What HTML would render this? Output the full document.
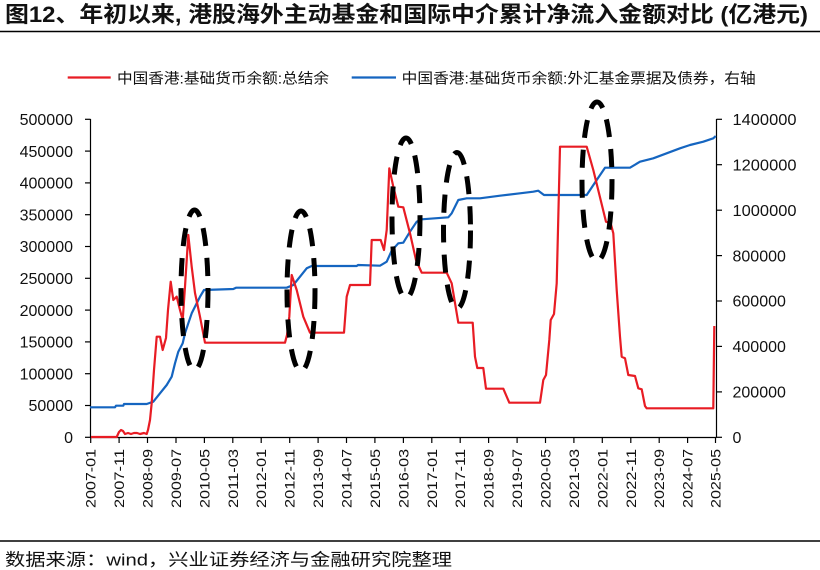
<!DOCTYPE html>
<html>
<head>
<meta charset="utf-8">
<style>
  html, body { margin: 0; padding: 0; background: #ffffff; }
  svg { display: block; }
  text { font-family: "Liberation Sans", "Noto Sans CJK SC", sans-serif; fill: #111; }
</style>
</head>
<body>
<svg width="820" height="570" viewBox="0 0 820 570" xmlns="http://www.w3.org/2000/svg">
  <rect x="0" y="0" width="820" height="570" fill="#ffffff"/>

  <!-- Title -->
  <text x="5" y="22" font-size="22" font-weight="bold" textLength="803" lengthAdjust="spacingAndGlyphs">图12、年初以来, 港股海外主动基金和国际中介累计净流入金额对比 (亿港元)</text>
  <line x1="0" y1="31.5" x2="820" y2="31.5" stroke="#000" stroke-width="1.6"/>

  <!-- Legend -->
  <line x1="67.7" y1="77.5" x2="110.7" y2="77.5" stroke="#E81C24" stroke-width="2.2"/>
  <text x="117" y="83.5" font-size="14.5" textLength="212" lengthAdjust="spacingAndGlyphs">中国香港:基础货币余额:总结余</text>
  <line x1="351.7" y1="77.5" x2="396" y2="77.5" stroke="#1565C0" stroke-width="2.2"/>
  <text x="401.7" y="83.5" font-size="14.5" textLength="354" lengthAdjust="spacingAndGlyphs">中国香港:基础货币余额:外汇基金票据及债券，右轴</text>

  <!-- Axes -->
  <g stroke="#000" stroke-width="1.2" fill="none">
    <line x1="90.5" y1="119" x2="90.5" y2="437.5"/>
    <line x1="716.5" y1="119" x2="716.5" y2="437.5"/>
    <line x1="90.5" y1="437.5" x2="716.5" y2="437.5"/>
    <!-- left ticks -->
    <line x1="85" y1="119.3" x2="90.5" y2="119.3"/>
    <line x1="85" y1="151.1" x2="90.5" y2="151.1"/>
    <line x1="85" y1="182.9" x2="90.5" y2="182.9"/>
    <line x1="85" y1="214.7" x2="90.5" y2="214.7"/>
    <line x1="85" y1="246.5" x2="90.5" y2="246.5"/>
    <line x1="85" y1="278.3" x2="90.5" y2="278.3"/>
    <line x1="85" y1="310.1" x2="90.5" y2="310.1"/>
    <line x1="85" y1="341.9" x2="90.5" y2="341.9"/>
    <line x1="85" y1="373.7" x2="90.5" y2="373.7"/>
    <line x1="85" y1="405.5" x2="90.5" y2="405.5"/>
    <line x1="85" y1="437.3" x2="90.5" y2="437.3"/>
    <!-- right ticks -->
    <line x1="716.5" y1="119.3" x2="722" y2="119.3"/>
    <line x1="716.5" y1="164.7" x2="722" y2="164.7"/>
    <line x1="716.5" y1="210.2" x2="722" y2="210.2"/>
    <line x1="716.5" y1="255.6" x2="722" y2="255.6"/>
    <line x1="716.5" y1="301.0" x2="722" y2="301.0"/>
    <line x1="716.5" y1="346.4" x2="722" y2="346.4"/>
    <line x1="716.5" y1="391.9" x2="722" y2="391.9"/>
    <line x1="716.5" y1="437.3" x2="722" y2="437.3"/>
    <!-- x ticks -->
    <line x1="90.7" y1="437.5" x2="90.7" y2="443"/>
    <line x1="119.1" y1="437.5" x2="119.1" y2="443"/>
    <line x1="147.5" y1="437.5" x2="147.5" y2="443"/>
    <line x1="176.0" y1="437.5" x2="176.0" y2="443"/>
    <line x1="204.4" y1="437.5" x2="204.4" y2="443"/>
    <line x1="232.8" y1="437.5" x2="232.8" y2="443"/>
    <line x1="261.2" y1="437.5" x2="261.2" y2="443"/>
    <line x1="289.7" y1="437.5" x2="289.7" y2="443"/>
    <line x1="318.1" y1="437.5" x2="318.1" y2="443"/>
    <line x1="346.5" y1="437.5" x2="346.5" y2="443"/>
    <line x1="374.9" y1="437.5" x2="374.9" y2="443"/>
    <line x1="403.4" y1="437.5" x2="403.4" y2="443"/>
    <line x1="431.8" y1="437.5" x2="431.8" y2="443"/>
    <line x1="460.2" y1="437.5" x2="460.2" y2="443"/>
    <line x1="488.6" y1="437.5" x2="488.6" y2="443"/>
    <line x1="517.1" y1="437.5" x2="517.1" y2="443"/>
    <line x1="545.5" y1="437.5" x2="545.5" y2="443"/>
    <line x1="573.9" y1="437.5" x2="573.9" y2="443"/>
    <line x1="602.3" y1="437.5" x2="602.3" y2="443"/>
    <line x1="630.8" y1="437.5" x2="630.8" y2="443"/>
    <line x1="659.2" y1="437.5" x2="659.2" y2="443"/>
    <line x1="687.6" y1="437.5" x2="687.6" y2="443"/>
    <line x1="715.5" y1="437.5" x2="715.5" y2="443"/>
  </g>

  <!-- Left axis labels -->
  <g font-size="16" text-anchor="end">
    <text x="73" y="125">500000</text>
    <text x="73" y="156.8">450000</text>
    <text x="73" y="188.6">400000</text>
    <text x="73" y="220.4">350000</text>
    <text x="73" y="252.2">300000</text>
    <text x="73" y="284">250000</text>
    <text x="73" y="315.8">200000</text>
    <text x="73" y="347.6">150000</text>
    <text x="73" y="379.4">100000</text>
    <text x="73" y="411.2">50000</text>
    <text x="73" y="443">0</text>
  </g>

  <!-- Right axis labels -->
  <g font-size="16" text-anchor="start">
    <text x="732.5" y="125" textLength="64" lengthAdjust="spacingAndGlyphs">1400000</text>
    <text x="732.5" y="170.4" textLength="64" lengthAdjust="spacingAndGlyphs">1200000</text>
    <text x="732.5" y="215.9" textLength="64" lengthAdjust="spacingAndGlyphs">1000000</text>
    <text x="732.5" y="261.3">800000</text>
    <text x="732.5" y="306.7">600000</text>
    <text x="732.5" y="352.1">400000</text>
    <text x="732.5" y="397.6">200000</text>
    <text x="732.5" y="443">0</text>
  </g>

  <!-- X axis labels (rotated) -->
  <g font-size="14" text-anchor="end">
    <text transform="translate(95.7,449) rotate(-90)" textLength="59" lengthAdjust="spacingAndGlyphs">2007-01</text>
    <text transform="translate(124.1,449) rotate(-90)" textLength="59" lengthAdjust="spacingAndGlyphs">2007-11</text>
    <text transform="translate(152.5,449) rotate(-90)" textLength="59" lengthAdjust="spacingAndGlyphs">2008-09</text>
    <text transform="translate(181.0,449) rotate(-90)" textLength="59" lengthAdjust="spacingAndGlyphs">2009-07</text>
    <text transform="translate(209.4,449) rotate(-90)" textLength="59" lengthAdjust="spacingAndGlyphs">2010-05</text>
    <text transform="translate(237.8,449) rotate(-90)" textLength="59" lengthAdjust="spacingAndGlyphs">2011-03</text>
    <text transform="translate(266.2,449) rotate(-90)" textLength="59" lengthAdjust="spacingAndGlyphs">2012-01</text>
    <text transform="translate(294.7,449) rotate(-90)" textLength="59" lengthAdjust="spacingAndGlyphs">2012-11</text>
    <text transform="translate(323.1,449) rotate(-90)" textLength="59" lengthAdjust="spacingAndGlyphs">2013-09</text>
    <text transform="translate(351.5,449) rotate(-90)" textLength="59" lengthAdjust="spacingAndGlyphs">2014-07</text>
    <text transform="translate(379.9,449) rotate(-90)" textLength="59" lengthAdjust="spacingAndGlyphs">2015-05</text>
    <text transform="translate(408.4,449) rotate(-90)" textLength="59" lengthAdjust="spacingAndGlyphs">2016-03</text>
    <text transform="translate(436.8,449) rotate(-90)" textLength="59" lengthAdjust="spacingAndGlyphs">2017-01</text>
    <text transform="translate(465.2,449) rotate(-90)" textLength="59" lengthAdjust="spacingAndGlyphs">2017-11</text>
    <text transform="translate(493.6,449) rotate(-90)" textLength="59" lengthAdjust="spacingAndGlyphs">2018-09</text>
    <text transform="translate(522.1,449) rotate(-90)" textLength="59" lengthAdjust="spacingAndGlyphs">2019-07</text>
    <text transform="translate(550.5,449) rotate(-90)" textLength="59" lengthAdjust="spacingAndGlyphs">2020-05</text>
    <text transform="translate(578.9,449) rotate(-90)" textLength="59" lengthAdjust="spacingAndGlyphs">2021-03</text>
    <text transform="translate(607.3,449) rotate(-90)" textLength="59" lengthAdjust="spacingAndGlyphs">2022-01</text>
    <text transform="translate(635.8,449) rotate(-90)" textLength="59" lengthAdjust="spacingAndGlyphs">2022-11</text>
    <text transform="translate(664.2,449) rotate(-90)" textLength="59" lengthAdjust="spacingAndGlyphs">2023-09</text>
    <text transform="translate(692.6,449) rotate(-90)" textLength="59" lengthAdjust="spacingAndGlyphs">2024-07</text>
    <text transform="translate(720.5,449) rotate(-90)" textLength="59" lengthAdjust="spacingAndGlyphs">2025-05</text>
  </g>

  <!-- Blue series (right axis) -->
  <polyline fill="none" stroke="#1565C0" stroke-width="2.2" stroke-linejoin="round"
    points="90,407.3 115,407.3 116,405.7 123.3,405.7 124,404 146.7,404 153.3,401.7 160,393.3 166.7,385 171.7,376.7 175,363.3 178.3,351.7 182.7,343.3 185,333.3 188.3,323.3 191.7,313.3 196.7,303.3 200,296.7 204,290 233.3,289 236,287.7 286.7,287.7 293.3,285 300,276.7 306.7,268.3 311.7,266 356.7,266 358,265 380,265.7 386.7,261.7 391.7,250.7 398.3,243.3 403.3,242.7 410,231.7 416.7,221.7 421.7,219.3 448.3,217.3 451.7,213.3 458.3,200 466.7,198.3 480,198.3 500,195.7 520,193.3 533.3,191.7 538.3,190.7 544,195 586.7,195 596.7,180 605,167.7 630,167.7 640,161.7 653.3,158.3 680,148.3 690,145 703.3,141.7 713.3,138.3 715.7,136"/>

  <!-- Red series (left axis) -->
  <polyline fill="none" stroke="#E81C24" stroke-width="2.2" stroke-linejoin="round"
    points="91,437 116.7,437 119,432 121,430 123,431 125,434 128,433 131,434 134,433 137,433 140,434 144,433 146.7,434 148,430 150,420 151.7,403 154,370 156.7,336.7 160,336.7 162.7,350 166,338 168,310 170.7,281.7 173.3,300 176.7,296.7 180,310 182.7,320 185,286.7 188.3,235 191.7,266.7 195,293 200,316.7 205,342.7 285,342.7 287,335 289.3,316.7 291.7,275 296.7,290 303.3,316.7 310,332.7 344,332.7 346.7,296.7 350,285 370,285 371.7,240 380.7,240 384,250 386.7,230 389.3,168.3 393.3,186.7 398.3,206.7 403.3,207.3 410,233.3 416,260 421.7,272.7 446.7,272.7 451.7,283.3 458.3,322.7 472.7,322.7 475,356.7 477.3,368 483.3,368 486,388.7 503.3,388.7 509.3,402.7 540,402.7 543.3,380 546,375 549.3,340 550.7,320 554,314 556.7,283.3 560,146.7 586.7,146.7 593.3,170 606,221.7 610.7,223.3 613.3,233.3 616.7,290 620,336.7 621.7,356.7 625,358.3 628.3,375 635,376 638.3,388.3 641.7,389.3 645,406 646.7,408.3 713.3,408.3 714.3,326"/>

  <!-- Dashed ellipses -->
  <g fill="none" stroke="#000" stroke-width="5" stroke-dasharray="18 12">
    <ellipse cx="194.5" cy="290" rx="13.5" ry="80"/>
    <ellipse cx="301" cy="291" rx="14" ry="80"/>
    <ellipse cx="406" cy="218" rx="14" ry="80"/>
    <ellipse cx="457" cy="230.5" rx="13.5" ry="78"/>
    <ellipse cx="597" cy="181.5" rx="15" ry="79.5"/>
  </g>

  <!-- Footer -->
  <line x1="0" y1="541" x2="820" y2="541" stroke="#000" stroke-width="1.5"/>
  <text x="5" y="565.5" font-size="17" textLength="447" lengthAdjust="spacingAndGlyphs">数据来源：wind，兴业证券经济与金融研究院整理</text>
</svg>
</body>
</html>
